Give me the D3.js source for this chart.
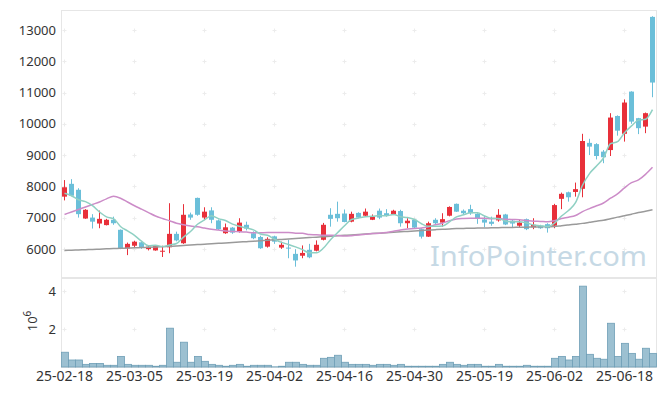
<!DOCTYPE html>
<html><head><meta charset="utf-8">
<script src="https://cdn.jsdelivr.net/npm/d3@7"></script>
<style>body{margin:0;background:#fff}svg{display:block;font-family:"Noto Sans",sans-serif}</style>
</head><body><svg id="c" width="665" height="396"></svg>
<script>
const dates=["25-02-18","25-02-19","25-02-20","25-02-21","25-02-24","25-02-25","25-02-26","25-02-27","25-02-28",
"25-03-04","25-03-05","25-03-06","25-03-07","25-03-10","25-03-11","25-03-12","25-03-13","25-03-14","25-03-17","25-03-18","25-03-19","25-03-20","25-03-21","25-03-24","25-03-25","25-03-26","25-03-27","25-03-28","25-03-31",
"25-04-01","25-04-02","25-04-03","25-04-04","25-04-07","25-04-08","25-04-09","25-04-10","25-04-11","25-04-14","25-04-15","25-04-16","25-04-17","25-04-18","25-04-21","25-04-22","25-04-23","25-04-24","25-04-25","25-04-28","25-04-29","25-04-30",
"25-05-02","25-05-07","25-05-08","25-05-09","25-05-12","25-05-13","25-05-14","25-05-15","25-05-16","25-05-19","25-05-20","25-05-21","25-05-22","25-05-23","25-05-26","25-05-27","25-05-28","25-05-29","25-05-30",
"25-06-02","25-06-04","25-06-05","25-06-09","25-06-10","25-06-11","25-06-12","25-06-13","25-06-16","25-06-17","25-06-18","25-06-19","25-06-20","25-06-23","25-06-24"];
const open=[7670,8080,7890,6970,7000,6810,6760,6930,6610,6010,6100,6210,5990,5950,5920,6050,6480,6180,7100,7630,7000,7230,6910,6500,6680,6550,6770,6500,6380,6070,6400,6040,6040,5840,5780,5970,5940,6290,7090,7120,7130,6870,7150,7060,6930,7220,7140,7110,7210,6820,6930,6630,6390,6930,6840,7060,7440,7220,7270,7120,6940,6870,6910,7100,6900,6740,6950,6690,6740,6790,6740,7600,7810,7820,7920,9390,9350,9110,9160,10250,9680,11030,10180,9910,13420];
const high=[8200,8230,7940,7270,7110,7225,6960,7030,6620,6200,6260,6230,6120,6100,6100,7460,6550,7430,7160,7640,7330,7330,6940,6810,6700,6980,6870,6560,6420,6370,6420,6230,6290,5990,6110,6160,6270,6830,7300,7510,7260,7190,7170,7290,7100,7290,7270,7250,7250,6980,6960,6660,6870,6980,7140,7360,7450,7260,7410,7140,7050,7030,7270,7120,6950,6930,6970,6980,6770,6820,7440,7800,7830,8120,9680,9520,9380,9160,10340,10270,10780,11040,10190,10360,13440];
const low=[7550,7680,7000,6960,6650,6660,6750,6770,5990,5800,6050,6000,5950,5940,5740,5860,6240,6160,6930,7060,6930,6820,6600,6480,6480,6520,6590,6310,6000,6040,6160,6000,5700,5430,5700,5700,5920,6270,6710,6870,6850,6850,6980,7020,6920,6950,7030,7080,6710,6660,6660,6330,6380,6760,6710,7040,7180,7080,7090,6800,6690,6740,6870,6760,6690,6670,6600,6630,6640,6520,6660,7270,7510,7670,7650,9000,8860,8740,8970,9620,9430,10000,9670,9700,10850];
const close=[7970,7700,7110,7250,6870,6960,6930,6820,6000,6160,6230,6030,6070,6100,5940,6480,6270,7090,7000,7090,7190,6930,6630,6690,6520,6840,6650,6340,6020,6320,6230,6130,6010,5630,5870,5730,6130,6770,6960,6980,6860,7120,7000,7190,7030,7000,7070,7220,6820,6900,6680,6390,6820,6820,6950,7340,7190,7140,7140,6960,6840,6800,7090,6780,6810,6840,6630,6770,6660,6660,7400,7760,7650,7910,9450,9270,8970,8930,10200,9780,10680,10070,9860,10340,11320];
const ma5=[7780,7700,7570,7510,7380,7178,7024,6966,6716,6574,6428,6248,6098,6118,6074,6124,6172,6376,6556,6786,6928,7060,6968,6906,6792,6722,6666,6608,6474,6434,6312,6208,6142,6064,5974,5874,5874,6026,6292,6514,6740,6938,6984,7030,7040,7068,7058,7102,7028,7002,6938,6802,6722,6722,6732,6864,7024,7088,7152,7154,7054,6976,6966,6894,6864,6864,6830,6766,6742,6712,6824,7050,7226,7476,8034,8408,8650,8906,9364,9430,9712,9932,10118,10146,10454];
const ma20=[7100,7180,7260,7340,7420,7500,7600,7680,7620,7500,7380,7270,7160,7050,6970,6900,6820,6770,6730,6704,6665,6626,6602,6574,6557,6551,6537,6513,6514,6522,6522,6527,6524,6500,6497,6459,6452,6436,6434,6429,6412,6422,6440,6465,6491,6499,6520,6564,6604,6633,6655,6668,6709,6768,6822,6903,6956,6974,6983,6982,6981,6965,6970,6949,6938,6930,6908,6886,6878,6866,6902,6970,7012,7066,7191,7288,7377,7466,7619,7760,7952,8116,8204,8382,8608];
const ma60=[5950,5958,5966,5975,5983,5991,6000,6008,6016,6024,6032,6040,6048,6056,6068,6082,6095,6109,6122,6136,6150,6163,6177,6190,6204,6217,6231,6244,6259,6273,6288,6302,6317,6331,6346,6360,6375,6389,6404,6418,6433,6447,6461,6475,6489,6503,6517,6531,6545,6559,6573,6587,6601,6615,6627,6638,6648,6655,6659,6664,6668,6673,6677,6682,6686,6691,6695,6700,6704,6709,6713,6740,6765,6790,6815,6850,6885,6915,6965,7015,7060,7110,7160,7205,7250];
const volume=[0.78,0.37,0.37,0.14,0.19,0.19,0.09,0.09,0.56,0.14,0.09,0.09,0.09,0.04,0.09,2.05,0.25,1.31,0.25,0.56,0.30,0.14,0.09,0.04,0.09,0.14,0.04,0.09,0.09,0.09,0.01,0.04,0.25,0.25,0.14,0.09,0.09,0.46,0.51,0.62,0.25,0.14,0.14,0.14,0.09,0.14,0.14,0.09,0.14,0.04,0.04,0.04,0.04,0.04,0.14,0.25,0.14,0.09,0.14,0.14,0.04,0.04,0.14,0.04,0.04,0.04,0.09,0.04,0.04,0.04,0.46,0.56,0.37,0.56,4.27,0.67,0.46,0.41,2.31,0.56,1.25,0.72,0.41,0.99,0.72].map(v=>v*1e6);
const xTickIdx=[0,10,20,30,40,50,60,70,80];
const priceTicks=[6000,7000,8000,9000,10000,11000,12000,13000];
const volTicks=[2e6,4e6];

const L=61,R=656,T1=10,B1=277,T2=278,B2=367;
const svg=d3.select("#c");
const idx=d3.range(dates.length);
const x=d3.scaleBand().domain(idx).range([L,R]).padding(0);
const cx=i=>x(i)+x.bandwidth()/2;
const y1=d3.scaleLinear().domain([5100,13640]).range([B1,T1]);
const y2=d3.scaleLinear().domain([0,4.7e6]).range([B2,T2]);

const RED="#e8303a",BLUE="#6bbfd9";

// frames
svg.append("rect").attr("x",L+0.5).attr("y",T1+0.5).attr("width",R-L).attr("height",B1-T1).attr("fill","none").attr("stroke","#e6e6e6");
svg.append("rect").attr("x",L+0.5).attr("y",T2+0.5).attr("width",R-L).attr("height",B2-T2).attr("fill","none").attr("stroke","#e6e6e6");

// grid crosses
const g=svg.append("g").attr("stroke","#ececec").attr("stroke-width",1);
function cross(px,py){g.append("path").attr("d",`M${px-2},${py}H${px+2}M${px},${py-2}V${py+2}`);}
xTickIdx.forEach(i=>{
  priceTicks.forEach(t=>cross(cx(i),Math.round(y1(t))+0.5));
  volTicks.forEach(t=>cross(cx(i),Math.round(y2(t))+0.5));
});

// watermark
svg.append("text").attr("x",430).attr("y",266).attr("font-size",27).attr("fill","#c6d9e5")
  .attr("textLength",217).attr("lengthAdjust","spacingAndGlyphs").text("InfoPointer.com");

// volume bars
svg.append("g").selectAll("rect").data(idx).join("rect")
  .attr("x",i=>x(i)+0.5).attr("width",x.bandwidth())
  .attr("y",i=>y2(volume[i])).attr("height",i=>B2-y2(volume[i]))
  .attr("fill","#9cc0d1").attr("stroke","#6f9fb6").attr("stroke-width",0.8);

// candles
const cg=svg.append("g");
cg.selectAll("line").data(idx).join("line")
  .attr("x1",cx).attr("x2",cx).attr("y1",i=>y1(high[i])).attr("y2",i=>y1(low[i]))
  .attr("stroke",i=>close[i]>=open[i]?RED:BLUE).attr("stroke-width",1);
cg.selectAll("rect").data(idx).join("rect")
  .attr("x",i=>cx(i)-2.5).attr("width",5)
  .attr("y",i=>y1(Math.max(open[i],close[i])))
  .attr("height",i=>Math.max(1,Math.abs(y1(open[i])-y1(close[i]))))
  .attr("fill",i=>close[i]>=open[i]?RED:BLUE);

// moving averages
const line=arr=>d3.line().x(i=>cx(i)).y(i=>y1(arr[i])).curve(d3.curveMonotoneX)(idx);
[[ma60,"#9a9a9a"],[ma20,"#cc8cc8"],[ma5,"#8fd0c3"]].forEach(([a,c])=>{
  svg.append("path").attr("d",line(a)).attr("fill","none").attr("stroke",c).attr("stroke-width",1.5);
});

// axes
function style(sel){sel.select(".domain").remove();sel.selectAll("text").attr("fill","#333").attr("font-family","Noto Sans");}
svg.append("g").attr("transform",`translate(${L},0)`)
  .call(d3.axisLeft(y1).tickValues(priceTicks).tickSize(0).tickPadding(5).tickFormat(d3.format("d")))
  .attr("font-size",13).call(style);
svg.append("g").attr("transform",`translate(${L},0)`)
  .call(d3.axisLeft(y2).tickValues(volTicks).tickSize(0).tickPadding(5).tickFormat(d=>d/1e6))
  .attr("font-size",13).call(style);
svg.append("g").attr("transform",`translate(0,${B2})`)
  .call(d3.axisBottom(x).tickValues(xTickIdx).tickSize(0).tickPadding(4).tickFormat(i=>dates[i]))
  .attr("font-size",14).call(style);

// 10^6 label
const t=svg.append("text").attr("transform","translate(37,321) rotate(-90)").attr("text-anchor","middle")
  .attr("font-size",13).attr("fill","#333");
t.append("tspan").text("10");
t.append("tspan").attr("dy",-6).attr("font-size",10).text("6");
</script></body></html>
